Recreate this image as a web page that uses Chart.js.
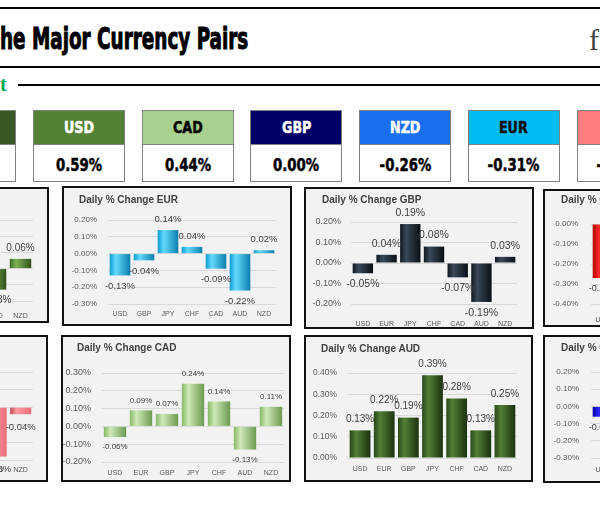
<!DOCTYPE html>
<html>
<head>
<meta charset="utf-8">
<script src="https://cdn.jsdelivr.net/npm/chart.js@4.4.1/dist/chart.umd.min.js"></script>
<style>
  body { margin: 0; background: #fff; }
  #page { position: relative; width: 600px; height: 509px; overflow: hidden; background: #fff; font-family: 'Liberation Sans', Arial, sans-serif; }
  .rule { position: absolute; background: #000; height: 2px; }
  .narrow { font-family: 'Liberation Sans Narrow', 'DejaVu Sans Condensed', 'DejaVu Sans', sans-serif; font-stretch: condensed; font-weight: bold; white-space: nowrap; -webkit-text-stroke: 0.5px currentColor; }
  #title { position: absolute; left: 0; top: 24px; font-size: 30px; line-height: 30px; transform-origin: 0 0; -webkit-text-stroke: 1px #000; }
  #logo { position: absolute; left: 589px; top: 25px; font-family: 'Liberation Serif', serif; font-size: 30px; line-height: 30px; color: #444; }
  #sub { position: absolute; left: 0; top: 74px; font-family: 'Liberation Serif', serif; font-weight: bold; font-size: 20px; line-height: 20px; color: #00a850; }
  .box { position: absolute; top: 110px; width: 92px; height: 72px; border: 1px solid #808080; box-sizing: border-box; background: #fff; }
  .box .hd { height: 33px; line-height: 33px; text-align: center; font-size: 16px; border-bottom: 1px solid #808080; }
  .box .val { height: 37px; line-height: 39px; text-align: center; font-size: 18px; color: #000; }
  .box span { display: inline-block; transform-origin: 50% 50%; }
  .panel { position: absolute; border: 2px solid #111; background: #f2f2f2; box-sizing: border-box; }
  .panel canvas { position: absolute; left: 0; top: 0; }
  .ptitle { position: absolute; font-weight: bold; font-size: 10px; line-height: 12px; color: #404040; white-space: nowrap; }
</style>
</head>
<body>
<div id="page">
  <div class="rule" style="left:0; top:7px; width:600px;"></div>
  <div id="title" class="narrow">he Major Currency Pairs</div>
  <div id="logo">f</div>
  <div class="rule" style="left:0; top:66px; width:600px;"></div>
  <div id="sub">t</div>
  <div class="rule" style="left:18px; top:84px; width:582px;"></div>
</div>
<script>
// strength boxes
const boxNames = ['AUD', 'USD', 'CAD', 'GBP', 'NZD', 'EUR', 'CHF'];
const boxValues = ['1.57%', '0.59%', '0.44%', '0.00%', '-0.26%', '-0.31%', '-0.64%'];

// daily % change per pair
const usdCats = ['EUR', 'GBP', 'JPY', 'CHF', 'CAD', 'AUD', 'NZD'];
const usdVals = [0.13, 0.05, 0.27, 0.17, 0.06, -0.13, 0.06];
const eurCats = ['USD', 'GBP', 'JPY', 'CHF', 'CAD', 'AUD', 'NZD'];
const eurVals = [-0.13, -0.04, 0.14, 0.04, -0.09, -0.22, 0.02];
const gbpCats = ['USD', 'EUR', 'JPY', 'CHF', 'CAD', 'AUD', 'NZD'];
const gbpVals = [-0.05, 0.04, 0.19, 0.08, -0.07, -0.19, 0.03];
const jpyCats = ['USD', 'EUR', 'GBP', 'CHF', 'CAD', 'AUD', 'NZD'];
const jpyVals = [-0.27, -0.14, -0.19, -0.11, -0.24, -0.39, -0.14];
const chfCats = ['USD', 'EUR', 'GBP', 'JPY', 'CAD', 'AUD', 'NZD'];
const chfVals = [-0.17, -0.04, -0.08, 0.11, -0.14, -0.28, -0.04];
const cadCats = ['USD', 'EUR', 'GBP', 'JPY', 'CHF', 'AUD', 'NZD'];
const cadVals = [-0.06, 0.09, 0.07, 0.24, 0.14, -0.13, 0.11];
const audCats = ['USD', 'EUR', 'GBP', 'JPY', 'CHF', 'CAD', 'NZD'];
const audVals = [0.13, 0.22, 0.19, 0.39, 0.28, 0.13, 0.25];
const nzdCats = ['USD', 'EUR', 'GBP', 'JPY', 'CHF', 'CAD', 'AUD'];
const nzdVals = [-0.06, -0.02, -0.03, 0.14, 0.04, -0.11, -0.25];

const boxColors = ['#385723', '#548235', '#a9d08e', '#000066', '#1a6ff0', '#00bcf2', '#ff7c80'];
const boxTextColors = ['#fff', '#fff', '#000', '#fff', '#fff', '#111', '#000'];

const page = document.getElementById('page');

boxNames.forEach((name, i) => {
  const box = document.createElement('div');
  box.className = 'box';
  box.style.left = (33 + (i - 1) * 108.7) + 'px';
  box.innerHTML = `<div class="hd narrow" style="background:${boxColors[i]};color:${boxTextColors[i]}"><span>${name}</span></div>` +
    `<div class="val narrow"><span>${boxValues[i]}</span></div>`;
  page.appendChild(box);
});

Chart.defaults.font.family = "'Liberation Sans', Arial, sans-serif";

const cylinder = {
  id: 'cylinder',
  beforeDatasetsDraw(chart, args, opts) {
    const ctx = chart.ctx;
    chart.getDatasetMeta(0).data.forEach((bar) => {
      const g = ctx.createLinearGradient(bar.x - bar.width / 2, 0, bar.x + bar.width / 2, 0);
      g.addColorStop(0, opts.colors[0]);
      g.addColorStop(0.3, opts.colors[1]);
      g.addColorStop(1, opts.colors[2]);
      bar.options.backgroundColor = g;
    });
  }
};

const valueLabels = {
  id: 'valueLabels',
  afterDatasetsDraw(chart, args, opts) {
    const ctx = chart.ctx;
    const vals = chart.data.datasets[0].data;
    ctx.save();
    ctx.font = `${opts.size}px 'Liberation Sans', Arial, sans-serif`;
    ctx.fillStyle = '#404040';
    ctx.textAlign = 'center';
    ctx.textBaseline = 'middle';
    chart.getDatasetMeta(0).data.forEach((bar, i) => {
      const v = vals[i];
      ctx.fillText(v.toFixed(2) + '%', bar.x, v >= 0 ? bar.y - opts.offset : bar.y + opts.offset);
    });
    ctx.restore();
  }
};

const panels = [
  { title: 'Daily % Change USD', cats: usdCats, vals: usdVals, min: -0.2, max: 0.3,
    box: [-181, 187, 230, 136], area: [-142, 33, 220, 301], yRight: -153, catY: 316, head: [-164, 200],
    colors: ['#3f6a25', '#7cb356', '#2e5119'], yFont: 8, labFont: 10, labOff: 11 },
  { title: 'Daily % Change EUR', cats: eurCats, vals: eurVals, min: -0.3, max: 0.2,
    box: [62, 186, 230, 140], area: [108, 276, 220, 304], yRight: 97, catY: 314, head: [79, 200],
    colors: ['#0f9bcf', '#62d9fb', '#0a7fae'], yFont: 8, labFont: 9.5, labOff: 11 },
  { title: 'Daily % Change GBP', cats: gbpCats, vals: gbpVals, min: -0.2, max: 0.2,
    box: [304, 187, 230, 142], area: [351, 517, 222, 304], yRight: 341, catY: 324, head: [322, 200],
    colors: ['#111a24', '#3b4857', '#0a0f16'], yFont: 9, labFont: 10.5, labOff: 11 },
  { title: 'Daily % Change JPY', cats: jpyCats, vals: jpyVals, min: -0.4, max: 0,
    box: [543, 189, 230, 138], area: [591, 759, 224, 304], yRight: 578, catY: 320, head: [561, 200],
    colors: ['#b00000', '#ff2a2a', '#8a0000'], yFont: 8, labFont: 9, labOff: 11 },
  { title: 'Daily % Change CHF', cats: chfCats, vals: chfVals, min: -0.3, max: 0.2,
    box: [-182, 335, 230, 147], area: [-139, 33, 372, 460], yRight: -150, catY: 470, head: [-164, 349],
    colors: ['#c04a58', '#ff9aa0', '#e8707a'], yFont: 8, labFont: 9.5, labOff: 13 },
  { title: 'Daily % Change CAD', cats: cadCats, vals: cadVals, min: -0.2, max: 0.3,
    box: [61, 335, 230, 147], area: [102, 284, 373, 462], yRight: 91, catY: 473, head: [77, 348],
    colors: ['#86b866', '#cde9b6', '#6c9a50'], yFont: 9, labFont: 8, labOff: 10 },
  { title: 'Daily % Change AUD', cats: audCats, vals: audVals, min: 0, max: 0.4,
    box: [304, 335, 229, 147], area: [348, 517, 373, 458], yRight: 337, catY: 469, head: [321, 349],
    colors: ['#2a4719', '#527e36', '#1c3210'], yFont: 8.5, labFont: 10, labOff: 11 },
  { title: 'Daily % Change NZD', cats: nzdCats, vals: nzdVals, min: -0.3, max: 0.2,
    box: [543, 335, 230, 148], area: [591, 759, 372, 458], yRight: 579, catY: 470, head: [561, 348],
    colors: ['#0000a8', '#2a2aff', '#00008a'], yFont: 8, labFont: 9, labOff: 11 }
];

function buildPanel(p) {
  const el = document.createElement('div');
  el.className = 'panel';
  el.style.left = p.box[0] + 'px';
  el.style.top = p.box[1] + 'px';
  el.style.width = p.box[2] + 'px';
  el.style.height = p.box[3] + 'px';
  const W = p.box[2] - 4;
  const H = p.box[3] - 4;
  const ox = p.box[0] + 2;
  const oy = p.box[1] + 2;

  const canvas = document.createElement('canvas');
  canvas.width = W;
  canvas.height = H;
  canvas.style.width = W + 'px';
  canvas.style.height = H + 'px';
  el.appendChild(canvas);

  const t = document.createElement('div');
  t.className = 'ptitle';
  t.textContent = p.title;
  t.style.left = (p.head[0] - ox) + 'px';
  t.style.top = (p.head[1] - oy - 6) + 'px';
  el.appendChild(t);
  page.appendChild(el);

  const left = p.area[0] - ox;
  const right = p.area[1] - ox;
  const top = p.area[2] - oy;
  const bottom = p.area[3] - oy;
  const catFont = 7;

  new Chart(canvas, {
    type: 'bar',
    data: {
      labels: p.cats,
      datasets: [{
        data: p.vals,
        backgroundColor: () => p.colors[1],
        borderWidth: 0,
        barPercentage: 0.86,
        categoryPercentage: 1
      }]
    },
    options: {
      responsive: false,
      animation: false,
      layout: { padding: { left: 0, top: top, right: W - right, bottom: 0 } },
      plugins: {
        legend: { display: false },
        tooltip: { enabled: false },
        cylinder: { colors: p.colors },
        valueLabels: { size: p.labFont, offset: p.labOff }
      },
      scales: {
        x: {
          grid: { display: false, drawTicks: false },
          border: { display: false },
          ticks: {
            color: '#595959',
            font: { size: catFont },
            padding: p.catY - p.area[3] - catFont * 0.6,
            autoSkip: false,
            maxRotation: 0
          },
          afterFit: (s) => { s.height = H - bottom; }
        },
        y: {
          min: p.min,
          max: p.max,
          grid: { color: '#d9d9d9', drawTicks: false },
          border: { display: false },
          ticks: {
            stepSize: 0.1,
            color: '#595959',
            font: { size: p.yFont },
            padding: p.area[0] - p.yRight,
            callback: (v) => v.toFixed(2) + '%'
          },
          afterFit: (s) => { s.width = left; }
        }
      }
    },
    plugins: [cylinder, valueLabels]
  });
}

panels.forEach(buildPanel);

function fitText() {
  const title = document.getElementById('title');
  title.style.transform = `scaleX(${248 / title.offsetWidth})`;
  const heads = document.querySelectorAll('.box .hd span');
  const vals = document.querySelectorAll('.box .val span');
  const hs = 30 / heads[1].offsetWidth;
  const vs = 46 / vals[1].offsetWidth;
  heads.forEach((s) => { s.style.transform = `scaleX(${hs})`; });
  vals.forEach((s) => { s.style.transform = `scaleX(${vs})`; });
}
fitText();
document.fonts.ready.then(fitText);
</script>
</body>
</html>
